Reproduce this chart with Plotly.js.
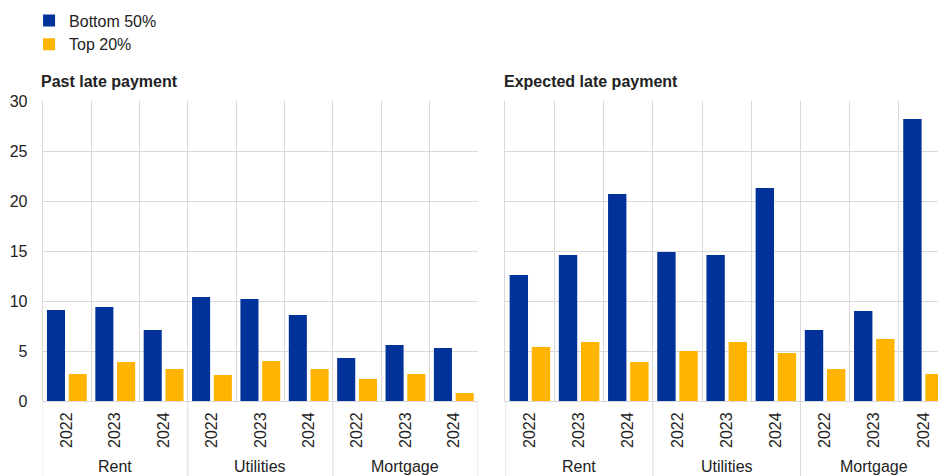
<!DOCTYPE html>
<html>
<head>
<meta charset="utf-8">
<script src="https://cdn.plot.ly/plotly-3.0.1.min.js"></script>
<style>html,body{margin:0;padding:0;background:#fff;}#chart{width:938px;height:476px;}</style>
</head>
<body>
<div id="chart"></div>
<script>
const categories = ["Rent", "Utilities", "Mortgage"];
const years = ["2022", "2023", "2024"];
const seriesNames = ["Bottom 50%", "Top 20%"];
const panelTitles = ["Past late payment", "Expected late payment"];

// values ordered Rent 2022..2024, Utilities 2022..2024, Mortgage 2022..2024
const pastBottom50 = [9.1, 9.4, 7.1, 10.4, 10.2, 8.6, 4.3, 5.6, 5.3];
const pastTop20 = [2.7, 3.9, 3.2, 2.6, 4.0, 3.2, 2.2, 2.7, 0.8];
const expBottom50 = [12.6, 14.6, 20.7, 14.9, 14.6, 21.3, 7.1, 9.0, 28.2];
const expTop20 = [5.4, 5.9, 3.9, 5.0, 5.9, 4.8, 3.2, 6.2, 2.7];

// unique category keys (category|year), labelled with the year only
const keys = [], keyLabels = [];
categories.forEach(c => years.forEach(y => { keys.push(c + "|" + y); keyLabels.push(y); }));

const blue = "#003299", yellow = "#FFB400";
const font = {family: "Liberation Sans, Arial, sans-serif", size: 16, color: "#222"};
const grid = "#d9d9d9";

const traces = [
  {type: "bar", name: seriesNames[0], x: keys, y: pastBottom50, marker: {color: blue}, xaxis: "x", yaxis: "y"},
  {type: "bar", name: seriesNames[1], x: keys, y: pastTop20, marker: {color: yellow}, xaxis: "x", yaxis: "y"},
  {type: "bar", name: seriesNames[0], x: keys, y: expBottom50, marker: {color: blue}, xaxis: "x2", yaxis: "y2", showlegend: false},
  {type: "bar", name: seriesNames[1], x: keys, y: expTop20, marker: {color: yellow}, xaxis: "x2", yaxis: "y2", showlegend: false}
];

const xbase = {
  type: "category", categoryorder: "array", categoryarray: keys,
  tickmode: "array", tickvals: keys, ticktext: keyLabels,
  tickangle: -90, tickson: "boundaries", showgrid: true, gridcolor: grid, gridwidth: 1,
  showline: true, linecolor: grid, ticks: "", tickfont: font, fixedrange: true, ticklabelstandoff: 4
};
const ybase = {
  range: [0, 30], dtick: 5, gridcolor: grid, showline: true, linecolor: grid, ticks: "",
  zeroline: false, tickfont: font, fixedrange: true
};

// category labels and divider lines below each panel
const annotations = [
  {text: "<b>" + panelTitles[0] + "</b>", xref: "paper", yref: "paper", x: 0.0415, y: 1.064, xanchor: "left", yanchor: "middle", showarrow: false, font: font},
  {text: "<b>" + panelTitles[1] + "</b>", xref: "paper", yref: "paper", x: 0.535, y: 1.064, xanchor: "left", yanchor: "middle", showarrow: false, font: font}
];
const shapes = [];
["x", "x2"].forEach(ax => {
  categories.forEach((c, i) => {
    annotations.push({text: c, xref: ax, yref: "paper", x: keys[i * years.length + 1], y: -0.217,
      xanchor: "center", yanchor: "middle", showarrow: false, font: font});
  });
  for (let i = 0; i <= categories.length; i++) {
    const xb = i * years.length - 0.5;
    shapes.push({type: "line", xref: ax, yref: "paper", x0: xb, x1: xb, y0: 0, y1: -0.3,
      line: {color: grid, width: 1}, layer: "below"});
  }
});

const layout = {
  width: 938, height: 476,
  margin: {l: 0, r: 0, t: 101, b: 75},
  paper_bgcolor: "#fff", plot_bgcolor: "#fff",
  font: font,
  barmode: "group", bargap: 0.1, bargroupgap: 0.17,
  showlegend: true,
  legend: {x: 0.031, xanchor: "left", y: 1.325, yanchor: "top", orientation: "v", font: font, bgcolor: "rgba(0,0,0,0)", traceorder: "normal"},
  xaxis: Object.assign({}, xbase, {domain: [0.0455, 0.5096], range: [-0.5, 8.5]}),
  yaxis: Object.assign({}, ybase, {anchor: "x", showticklabels: true, ticklabelstandoff: 11}),
  xaxis2: Object.assign({}, xbase, {domain: [0.5387, 1], range: [-0.5, 8.295], anchor: "y2"}),
  yaxis2: Object.assign({}, ybase, {anchor: "x2", showticklabels: false}),
  annotations: annotations,
  shapes: shapes
};

Plotly.newPlot("chart", traces, layout, {displayModeBar: false, staticPlot: true});
</script>
</body>
</html>
